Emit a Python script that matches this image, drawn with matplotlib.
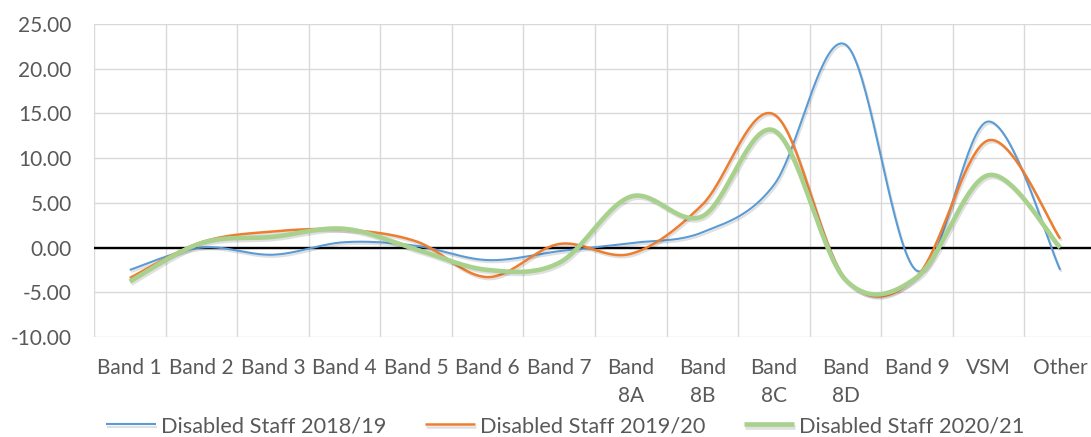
import matplotlib
matplotlib.use('Agg')
import matplotlib.pyplot as plt
import matplotlib.patheffects as pe
import numpy as np

plt.rcParams['font.family'] = ['Lato', 'DejaVu Sans']

# categories and values
bands = ['Band 1', 'Band 2', 'Band 3', 'Band 4', 'Band 5', 'Band 6', 'Band 7',
         'Band\n8A', 'Band\n8B', 'Band\n8C', 'Band\n8D', 'Band 9', 'VSM', 'Other']
staff_1819 = [-2.5, 0.0, -0.8, 0.6, 0.2, -1.4, -0.4, 0.5, 1.7, 7.0, 22.7, -2.6, 14.1, -2.5]
staff_1920 = [-3.4, 0.6, 1.8, 2.0, 0.7, -3.3, 0.4, -0.7, 4.8, 14.9, -3.5, -3.2, 12.0, 1.0]
staff_2021 = [-3.8, 0.5, 1.2, 2.1, -0.2, -2.5, -1.7, 5.7, 3.5, 13.1, -3.6, -3.3, 8.1, 0.0]
series_names = ['Disabled Staff 2018/19', 'Disabled Staff 2019/20', 'Disabled Staff 2020/21']


def smooth(x, y, n=40):
    # excel style smoothed line: bezier through the points, tangent/6 controls
    x = np.asarray(x, float)
    y = np.asarray(y, float)
    px = np.concatenate(([x[0]], x, [x[-1]]))
    py = np.concatenate(([y[0]], y, [y[-1]]))
    t = np.linspace(0, 1, n)
    xs, ys = [], []
    for i in range(len(x) - 1):
        p0 = np.array([x[i], y[i]])
        p3 = np.array([x[i + 1], y[i + 1]])
        p1 = p0 + (np.array([px[i + 2], py[i + 2]]) - np.array([px[i], py[i]])) / 6
        p2 = p3 - (np.array([px[i + 3], py[i + 3]]) - np.array([px[i + 1], py[i + 1]])) / 6
        b = ((1 - t) ** 3)[:, None] * p0 + (3 * (1 - t) ** 2 * t)[:, None] * p1 \
            + (3 * (1 - t) * t ** 2)[:, None] * p2 + (t ** 3)[:, None] * p3
        xs.append(b[:, 0])
        ys.append(b[:, 1])
    return np.concatenate(xs), np.concatenate(ys)


fig = plt.figure(figsize=(10.91, 4.37), dpi=100)
ax = fig.add_axes([94 / 1091, 1 - 337 / 437, 1002 / 1091, 313 / 437])

xpos = np.arange(len(bands)) + 0.5
colors = ['#5B9BD5', '#ED7D31', '#A9D18E']
widths = [1.5, 1.8, 3.3]
shadow = [pe.SimpleLineShadow(offset=(1, -1.5), alpha=0.12), pe.Normal()]

for vals, name, c, lw in zip([staff_1819, staff_1920, staff_2021], series_names, colors, widths):
    sx, sy = smooth(xpos, vals)
    ax.plot(sx, sy, color=c, lw=lw, label=name, path_effects=shadow, zorder=3,
            solid_capstyle='butt')

ax.axhline(0, color='black', lw=1.7, zorder=2)

ax.set_xlim(0, len(bands))
ax.set_ylim(-10, 25)
ax.set_yticks(np.arange(-10, 26, 5))
ax.set_yticklabels(['%.2f' % v for v in np.arange(-10, 26, 5)])
ax.set_xticks(np.arange(len(bands) + 1), minor=False)
ax.set_xticklabels([])
ax.set_xticks(xpos, minor=True)
ax.set_xticklabels(bands, minor=True, linespacing=1.5)
ax.grid(True, which='major', color='#D9D9D9', lw=1.0)
ax.set_axisbelow(True)
for s in ax.spines.values():
    s.set_visible(False)
ax.tick_params(axis='both', which='both', length=0, colors='#595959', labelsize=15)
ax.tick_params(axis='y', pad=16)
ax.tick_params(axis='x', which='minor', pad=15)

ax.legend(loc='center', bbox_to_anchor=(0.518, 0.025), bbox_transform=fig.transFigure,
          ncol=3, frameon=False, fontsize=15.7, handlelength=2.3, handletextpad=0.25,
          columnspacing=1.75, borderpad=0, labelcolor='#595959')

fig.savefig('out.png', dpi=100)
